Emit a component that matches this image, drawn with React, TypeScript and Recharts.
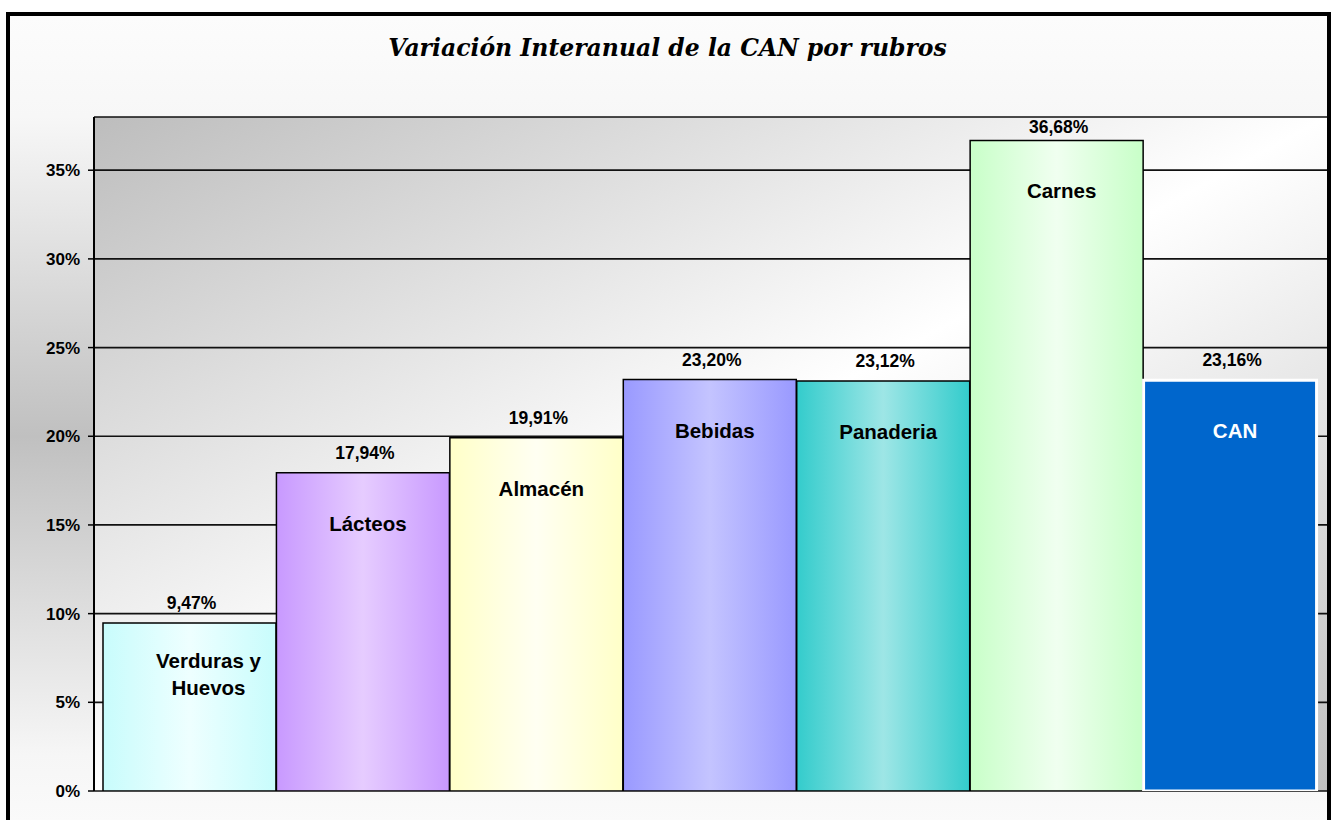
import React from 'react';
import { BarChart, Bar, XAxis, YAxis, CartesianGrid, Cell, LabelList } from 'recharts';

const CATEGORIES = ['Verduras y\nHuevos', 'Lácteos', 'Almacén', 'Bebidas', 'Panaderia', 'Carnes', 'CAN'];
const VALUES = [9.47, 17.94, 19.91, 23.2, 23.12, 36.68, 23.16];
const Y_TICKS = [0, 5, 10, 15, 20, 25, 30, 35];

// edge / middle colour of each bar's horizontal gradient
const EDGE_COLORS = ['#c8fcfc', '#c899ff', '#ffffc8', '#9999ff', '#33cccc', '#c8ffc8', '#0066cc'];
const MID_COLORS = ['#eeffff', '#e6ccff', '#fffff2', '#c4c4ff', '#9ee6e6', '#f0fff0', '#0066cc'];

const data = CATEGORIES.map((name, i) => ({ name, value: VALUES[i] }));

const SANS = '"Liberation Sans", Arial, sans-serif';

const fmt = (v: number) => `${v.toFixed(2).replace('.', ',')}%`;

const ValueLabel = (props: any) => {
  const { x, y, width, value } = props;
  const cx = Number(x) + Number(width) / 2;
  const baseY = Math.max(Number(y) - 14, 133);
  return (
    <text x={cx + 2} y={baseY} textAnchor="middle" fontFamily={SANS} fontWeight="bold" fontSize={17.5} fill="#000">
      {fmt(value)}
    </text>
  );
};

const NameLabel = (props: any) => {
  const { x, y, width, value, index } = props;
  const lines = String(value).split('\n');
  const cx = Number(x) + Number(width) / 2 + (lines.length > 1 ? 19 : 5);
  const isTotal = index === CATEGORIES.length - 1;
  return (
    <text textAnchor="middle" fontFamily={SANS} fontWeight="bold" fontSize={20.5} fill={isTotal ? '#fff' : '#000'}>
      {lines.map((l, i) => (
        <tspan key={i} x={cx} y={Number(y) + 58 + (i - (lines.length - 1) / 2) * 27}>
          {l}
        </tspan>
      ))}
    </text>
  );
};

export default function App() {
  return (
    <div style={{ position: 'absolute', left: 0, top: 0, width: 1335, height: 820, overflow: 'hidden', background: '#fff' }}>
      <div
        style={{
          position: 'absolute',
          left: 6,
          top: 12,
          width: 1317,
          height: 840,
          border: '4px solid #000',
          background:
            'linear-gradient(to bottom, #fcfcfc 0%, #f7f7f7 12%, #c0c0c0 50%, #f6f6f6 88%, #fcfcfc 100%)',
        }}
      />
      <div
        style={{
          position: 'absolute',
          left: 0,
          top: 34,
          width: 1335,
          textAlign: 'center',
          fontFamily: '"DejaVu Serif", serif',
          fontStyle: 'italic',
          fontWeight: 'bold',
          fontSize: 23.5,
          lineHeight: '28px',
          color: '#000',
        }}
      >
        Variación Interanual de la CAN por rubros
      </div>
      <div style={{ position: 'absolute', left: 0, top: 0 }}>
        <BarChart
          width={1335}
          height={820}
          data={data}
          margin={{ top: 117, right: 8, bottom: 29, left: 0 }}
          barCategoryGap={0}
          barGap={0}
        >
          <defs>
            <linearGradient id="plotBg" x1="0" y1="0" x2="1" y2="1">
              <stop offset="0%" stopColor="#bdbdbd" />
              <stop offset="50%" stopColor="#ffffff" />
              <stop offset="100%" stopColor="#c0c0c0" />
            </linearGradient>
            {EDGE_COLORS.map((c, i) => (
              <linearGradient key={i} id={`bar${i}`} x1="0" y1="0" x2="1" y2="0">
                <stop offset="0%" stopColor={c} />
                <stop offset="50%" stopColor={MID_COLORS[i]} />
                <stop offset="100%" stopColor={c} />
              </linearGradient>
            ))}
          </defs>
          <CartesianGrid vertical={false} stroke="#111" strokeWidth={1.7} fill="url(#plotBg)" fillOpacity={1} />
          <XAxis
            dataKey="name"
            tick={false}
            tickLine={false}
            height={0}
            padding={{ left: 9, right: 10 }}
            axisLine={{ stroke: '#000', strokeWidth: 2 }}
          />
          <XAxis
            xAxisId="top"
            orientation="top"
            dataKey="name"
            tick={false}
            tickLine={false}
            height={0}
            axisLine={{ stroke: '#000', strokeWidth: 2 }}
          />
          <YAxis
            domain={[0, 38]}
            ticks={Y_TICKS}
            allowDataOverflow
            width={94}
            tickFormatter={(v) => `${v}%`}
            tick={{ fontFamily: SANS, fontWeight: 'bold', fontSize: 17, fill: '#000' }}
            tickSize={6}
            tickMargin={8}
            tickLine={{ stroke: '#000', strokeWidth: 1.5 }}
            axisLine={{ stroke: '#000', strokeWidth: 2 }}
          />
          <YAxis
            yAxisId="r"
            orientation="right"
            domain={[0, 38]}
            width={0}
            tick={false}
            tickLine={false}
            axisLine={{ stroke: '#000', strokeWidth: 2 }}
          />
          <Bar dataKey="value" isAnimationActive={false}>
            {data.map((d, i) => (
              <Cell
                key={d.name}
                fill={`url(#bar${i})`}
                stroke={i === data.length - 1 ? '#fff' : '#000'}
                strokeWidth={i === data.length - 1 ? 3 : 1.5}
              />
            ))}
            <LabelList dataKey="value" content={<ValueLabel />} />
            <LabelList dataKey="name" content={<NameLabel />} />
          </Bar>
        </BarChart>
      </div>
    </div>
  );
}
